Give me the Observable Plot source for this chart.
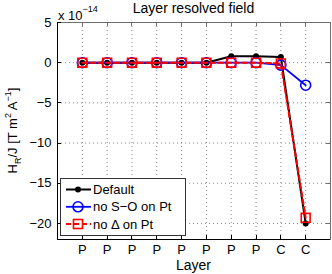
<!DOCTYPE html>
<html>
<head>
<meta charset="utf-8">
<script src="https://cdn.jsdelivr.net/npm/d3@7"></script>
<script src="https://cdn.jsdelivr.net/npm/@observablehq/plot@0.6"></script>
<style>
  html, body { margin: 0; padding: 0; background: #fff; }
  svg { display: block; }
</style>
</head>
<body>
<div id="chart"></div>
<script>
const layerLabels = ["P","P","P","P","P","P","P","P","C","C"];
const layerIndex = [1,2,3,4,5,6,7,8,9,10];
const defaultVals = [0,0,0,0,0,0,0.8,0.8,0.7,-20];
const noSOVals    = [0,0,0,0,0,0,0,0,-0.3,-2.8];
const noDeltaVals = [0,0,0,0,0,0,0,0,-0.1,-19.3];
const yTicks = [-20,-15,-10,-5,0,5];
const titleText = "Layer resolved field";
const xLabelText = "Layer";
const seriesNames = ["Default", "no S\u2212O on Pt", "no \u0394 on Pt"];

const mk = vals => layerIndex.map((x, i) => ({x, y: vals[i]}));
const dDefault = mk(defaultVals), dNoSO = mk(noSOVals), dNoDelta = mk(noDeltaVals);

const FONT = "'Liberation Sans', Arial, Helvetica, sans-serif";
const gridStyle = {stroke: "#8a8a8a", strokeWidth: 1, strokeDasharray: "1,3"};

const chart = Plot.plot({
  width: 332, height: 274,
  marginLeft: 57, marginRight: 2, marginTop: 22, marginBottom: 35,
  style: {fontFamily: FONT, fontSize: "13px", color: "#000", background: "#fff"},
  x: {domain: [0, 11]},
  y: {domain: [-22, 5]},
  marks: [
    Plot.ruleX(layerIndex, gridStyle),
    Plot.ruleY(yTicks, gridStyle),
    Plot.frame({stroke: "#6e6e6e", strokeWidth: 1}),
    Plot.ruleX([0], {stroke: "#000"}),
    Plot.ruleY([-22], {stroke: "#000"}),
    Plot.line(dDefault, {x: "x", y: "y", stroke: "#000", strokeWidth: 2}),
    Plot.dot(dDefault, {x: "x", y: "y", r: 3, fill: "#000"}),
    Plot.line(dNoSO, {x: "x", y: "y", stroke: "#0000ff", strokeWidth: 1.8}),
    Plot.dot(dNoSO, {x: "x", y: "y", r: 5, stroke: "#0000ff", fill: "none", strokeWidth: 1.6}),
    Plot.line(dNoDelta, {x: "x", y: "y", stroke: "#ff0000", strokeWidth: 2, strokeDasharray: "5,3"}),
    Plot.dot(dNoDelta, {x: "x", y: "y", r: 5, symbol: "square", stroke: "#ff0000", fill: "none", strokeWidth: 1.6}),
    Plot.axisX({ticks: layerIndex, tickFormat: i => layerLabels[i - 1], tickSize: 0, tickPadding: 5, label: null, fontSize: 13}),
    Plot.axisY({ticks: yTicks, tickSize: 0, tickPadding: 6, label: null, fontSize: 13})
  ]
});
document.getElementById("chart").appendChild(chart);

const sx = chart.scale("x"), sy = chart.scale("y");
const svg = d3.select(chart);
const [x0, x1] = sx.domain.map(v => sx.apply(v));
const [yb, yt] = sy.domain.map(v => sy.apply(v));
const g = svg.append("g").attr("stroke", "#000").attr("stroke-width", 1);
layerIndex.forEach(v => {
  const px = Math.round(sx.apply(v)) + 0.5;
  g.append("line").attr("x1", px).attr("x2", px).attr("y1", yb).attr("y2", yb - 4);
  g.append("line").attr("x1", px).attr("x2", px).attr("y1", yt).attr("y2", yt + 4).attr("stroke", "#6e6e6e");
});
yTicks.forEach(v => {
  const py = Math.round(sy.apply(v)) + 0.5;
  g.append("line").attr("x1", x0).attr("x2", x0 + 4).attr("y1", py).attr("y2", py);
  g.append("line").attr("x1", x1).attr("x2", x1 - 4).attr("y1", py).attr("y2", py).attr("stroke", "#6e6e6e");
});

const txt = svg.append("g").attr("font-family", FONT).attr("font-size", 13).attr("fill", "#000");
const cx = (x0 + x1) / 2;
txt.append("text").attr("x", cx).attr("y", 13).attr("text-anchor", "middle").attr("font-size", 14).text(titleText);
txt.append("text").attr("x", cx).attr("y", 270).attr("text-anchor", "middle").attr("font-size", 14).text(xLabelText);

// exponent
const ex = txt.append("text").attr("x", x0 + 1).attr("y", 20).attr("text-anchor", "start");
ex.append("tspan").text("x 10");
ex.append("tspan").attr("font-size", 9).attr("dy", -8).text("\u221214");

// y label
const yl = txt.append("text").attr("text-anchor", "middle")
  .attr("transform", `translate(17,${(yb + yt) / 2}) rotate(-90)`);
yl.append("tspan").text("H");
yl.append("tspan").attr("font-size", 9).attr("dy", 4).text("R");
yl.append("tspan").attr("dy", -4).text("/J [T m");
yl.append("tspan").attr("font-size", 9).attr("dy", -6).text("2");
yl.append("tspan").attr("dy", 6).text(" A");
yl.append("tspan").attr("font-size", 9).attr("dy", -6).text("\u22121");
yl.append("tspan").attr("dy", 6).text("]");

// legend
const lg = svg.append("g");
lg.append("rect").attr("x", 60.5).attr("y", 178.5).attr("width", 125).attr("height", 57)
  .attr("fill", "#fff").attr("stroke", "#333").attr("stroke-width", 1);
const rows = [189.5, 206.8, 224];
const styles = [
  {stroke: "#000", dash: null, sw: 2},
  {stroke: "#0000ff", dash: null, sw: 1.8},
  {stroke: "#ff0000", dash: "5,3", sw: 2}
];
rows.forEach((ry, i) => {
  const s = styles[i];
  lg.append("line").attr("x1", 66).attr("x2", 91).attr("y1", ry).attr("y2", ry)
    .attr("stroke", s.stroke).attr("stroke-width", s.sw).attr("stroke-dasharray", s.dash);
  if (i === 0) lg.append("circle").attr("cx", 78).attr("cy", ry).attr("r", 3).attr("fill", "#000");
  if (i === 1) lg.append("circle").attr("cx", 78).attr("cy", ry).attr("r", 5).attr("fill", "none").attr("stroke", "#0000ff").attr("stroke-width", 1.6);
  if (i === 2) lg.append("rect").attr("x", 73.5).attr("y", ry - 4.5).attr("width", 9).attr("height", 9).attr("fill", "none").attr("stroke", "#ff0000").attr("stroke-width", 1.6);
  lg.append("text").attr("x", 93).attr("y", ry + 4.5).attr("text-anchor", "start")
    .attr("font-family", FONT).attr("font-size", 13).text(seriesNames[i]);
});
</script>
</body>
</html>
